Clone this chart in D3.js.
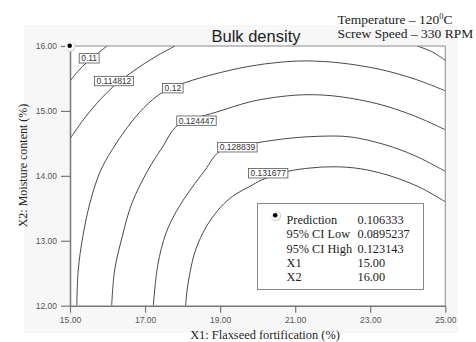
<!DOCTYPE html>
<html>
<head>
<meta charset="utf-8">
<script src="https://cdn.jsdelivr.net/npm/d3@7"></script>
<style>
  body { margin: 0; background: #fff; }
</style>
</head>
<body>
<div id="chart"></div>
<script>
// axis ticks
const xTicks = [15, 17, 19, 21, 23, 25];
const yTicks = [12, 13, 14, 15, 16];

// contour lines, as [X1, X2]
const line0110 = [[15.99, 16.00], [15.72, 15.88], [15.45, 15.75], [15.21, 15.61], [15.00, 15.46]];
const line0114Left = [[17.80, 16.00], [17.26, 15.83], [16.73, 15.63], [16.20, 15.40], [15.72, 15.12], [15.35, 14.86], [15.00, 14.57]];
const line0114Right = [[24.25, 16.00], [24.65, 15.91], [25.00, 15.78]];
const line0120 = [[15.18, 12.00], [15.22, 12.55], [15.34, 13.06], [15.53, 13.58], [15.80, 14.06], [16.12, 14.40],
  [16.52, 14.74], [16.97, 15.05], [17.45, 15.28], [18.04, 15.43], [19.00, 15.59], [19.80, 15.69], [20.60, 15.75],
  [21.29, 15.77], [22.19, 15.74], [23.26, 15.64], [24.19, 15.49], [25.00, 15.31]];
const line0124 = [[16.11, 12.00], [16.19, 12.55], [16.39, 13.06], [16.65, 13.58], [17.08, 14.09], [17.45, 14.43],
  [17.85, 14.77], [18.36, 14.89], [18.89, 14.98], [19.80, 15.14], [20.60, 15.22], [21.37, 15.25], [22.19, 15.22],
  [23.26, 15.10], [24.19, 14.92], [25.00, 14.71]];
const line0128 = [[17.22, 12.00], [17.34, 12.63], [17.56, 13.12], [17.85, 13.47], [18.20, 13.78], [18.60, 14.09],
  [18.97, 14.37], [19.48, 14.46], [19.98, 14.51], [20.86, 14.58], [21.66, 14.61], [22.46, 14.60], [23.39, 14.48],
  [24.19, 14.31], [25.00, 14.07]];
const line0131 = [[18.08, 12.00], [18.12, 12.24], [18.20, 12.52], [18.33, 12.83], [18.54, 13.12], [18.78, 13.35],
  [19.10, 13.57], [19.42, 13.72], [19.80, 13.84], [20.12, 13.94], [20.81, 14.07], [21.39, 14.12], [22.01, 14.14],
  [22.73, 14.11], [23.53, 14.00], [24.33, 13.82], [25.00, 13.60]];

// contour labels
const labelText = ["0.11", "0.114812", "0.12", "0.124447", "0.128839", "0.131677"];
const labelX1 = [15.51, 16.17, 17.74, 18.37, 19.46, 20.28];
const labelX2 = [15.81, 15.46, 15.35, 14.85, 14.44, 14.04];

// prediction point and legend
const predPoint = [15, 16];
const legendNames = ["Prediction", "95% CI Low", "95% CI High", "X1", "X2"];
const legendValues = ["0.106333", "0.0895237", "0.123143", "15.00", "16.00"];

const width = 476, height = 342;
const sans = "'Liberation Sans', Arial, sans-serif";
const serif = "'Liberation Serif', 'Times New Roman', serif";

const svg = d3.select("#chart").append("svg")
  .attr("width", width)
  .attr("height", height);

// light panel behind the graph
svg.append("rect")
  .attr("x", 24).attr("y", 25)
  .attr("width", 434).attr("height", 308)
  .attr("fill", "#f7f7f7");

const x = d3.scaleLinear().domain([15, 25]).range([70, 445.3]);
const y = d3.scaleLinear().domain([12, 16]).range([305.7, 46]);

svg.append("rect")
  .attr("x", x(15)).attr("y", y(16))
  .attr("width", x(25) - x(15)).attr("height", y(12) - y(16))
  .attr("fill", "#fff");

svg.append("clipPath").attr("id", "plot-clip")
  .append("rect")
  .attr("x", x(15)).attr("y", y(16))
  .attr("width", x(25) - x(15)).attr("height", y(12) - y(16));

// contours
const path = d3.line()
  .x(d => x(d[0]))
  .y(d => y(d[1]))
  .curve(d3.curveCatmullRom.alpha(0.5));

const contours = [line0110, line0114Left, line0114Right, line0120, line0124, line0128, line0131];

svg.append("g")
  .attr("clip-path", "url(#plot-clip)")
  .selectAll("path")
  .data(contours)
  .enter()
  .append("path")
  .attr("d", path)
  .attr("fill", "none")
  .attr("stroke", "#333")
  .attr("stroke-width", 0.9);

// frame top and right
svg.append("path")
  .attr("d", `M${x(15)},${y(16)}H${x(25)}V${y(12)}`)
  .attr("fill", "none")
  .attr("stroke", "#888")
  .attr("stroke-width", 1);

// axes
const xAxis = svg.append("g")
  .attr("transform", `translate(0,${y(12)})`)
  .call(d3.axisBottom(x).tickValues(xTicks).tickFormat(d3.format(".2f")).tickSize(7).tickSizeOuter(0).tickPadding(4));

const yAxis = svg.append("g")
  .attr("transform", `translate(${x(15)},0)`)
  .call(d3.axisLeft(y).tickValues(yTicks).tickFormat(d3.format(".2f")).tickSize(9).tickSizeOuter(0).tickPadding(4));

[xAxis, yAxis].forEach(g => {
  g.select(".domain").attr("stroke", "#777").attr("stroke-width", 1.5);
  g.selectAll(".tick line").attr("stroke", "#777").attr("stroke-width", 1.2);
  g.selectAll(".tick text")
    .attr("fill", "#555")
    .style("font-family", sans)
    .style("font-size", "8.5px");
});

// contour labels
const lab = svg.append("g")
  .selectAll("g")
  .data(labelText)
  .enter()
  .append("g")
  .attr("transform", (d, i) => `translate(${x(labelX1[i])},${y(labelX2[i])})`);

lab.append("rect");
lab.append("text")
  .attr("text-anchor", "middle")
  .attr("dy", "0.35em")
  .attr("fill", "#333")
  .style("font-family", sans)
  .style("font-size", "8.5px")
  .text(d => d);

lab.each(function () {
  let g = d3.select(this);
  let w = g.select("text").node().getComputedTextLength() + 4;
  g.select("rect")
    .attr("x", -w / 2).attr("y", -4.7)
    .attr("width", w).attr("height", 9.4)
    .attr("fill", "#fff")
    .attr("stroke", "#555")
    .attr("stroke-width", 0.8);
});

// prediction marker
function marker(cx, cy) {
  svg.append("circle").attr("cx", cx + 0.6).attr("cy", cy + 0.6).attr("r", 5.2).attr("fill", "#d8d8d8");
  svg.append("circle").attr("cx", cx).attr("cy", cy).attr("r", 4.6).attr("fill", "#fafafa");
  svg.append("circle").attr("cx", cx - 0.3).attr("cy", cy - 0.3).attr("r", 2.3).attr("fill", "#000");
}
marker(x(predPoint[0]), y(predPoint[1]));

// title and conditions
svg.append("text")
  .attr("x", 256).attr("y", 41.5)
  .attr("text-anchor", "middle")
  .attr("fill", "#222")
  .style("font-family", sans)
  .style("font-size", "16.5px")
  .text("Bulk density");

const cond = svg.append("text")
  .attr("x", 337.5).attr("y", 23.5)
  .attr("fill", "#222")
  .style("font-family", serif)
  .style("font-size", "13.5px");
cond.append("tspan").text("Temperature \u2013 120");
cond.append("tspan").attr("dy", -5).style("font-size", "8.5px").text("0");
cond.append("tspan").attr("dy", 5).text("C");

svg.append("text")
  .attr("x", 337.5).attr("y", 37.5)
  .attr("fill", "#222")
  .style("font-family", serif)
  .style("font-size", "13.5px")
  .text("Screw Speed \u2013 330 RPM");

// axis titles
svg.append("text")
  .attr("x", 265).attr("y", 339)
  .attr("text-anchor", "middle")
  .attr("fill", "#222")
  .style("font-family", serif)
  .style("font-size", "12.4px")
  .text("X1: Flaxseed fortification (%)");

svg.append("text")
  .attr("transform", "translate(27,165.5) rotate(-90)")
  .attr("text-anchor", "middle")
  .attr("fill", "#222")
  .style("font-family", serif)
  .style("font-size", "12px")
  .text("X2: Moisture content (%)");

// legend box
svg.append("rect")
  .attr("x", 257.5).attr("y", 203.5)
  .attr("width", 166).attr("height", 86)
  .attr("fill", "#fff")
  .attr("stroke", "#888")
  .attr("stroke-width", 1);

marker(275.5, 215.5);

const rows = svg.append("g")
  .selectAll("g")
  .data(legendNames)
  .enter()
  .append("g")
  .attr("transform", (d, i) => `translate(0,${224 + i * 14.25})`);

rows.append("text")
  .attr("x", 286.5)
  .attr("fill", "#222")
  .style("font-family", serif)
  .style("font-size", "12.3px")
  .text(d => d);

rows.append("text")
  .attr("x", 357.5)
  .attr("fill", "#222")
  .style("font-family", serif)
  .style("font-size", "12.3px")
  .text((d, i) => legendValues[i]);
</script>
</body>
</html>
